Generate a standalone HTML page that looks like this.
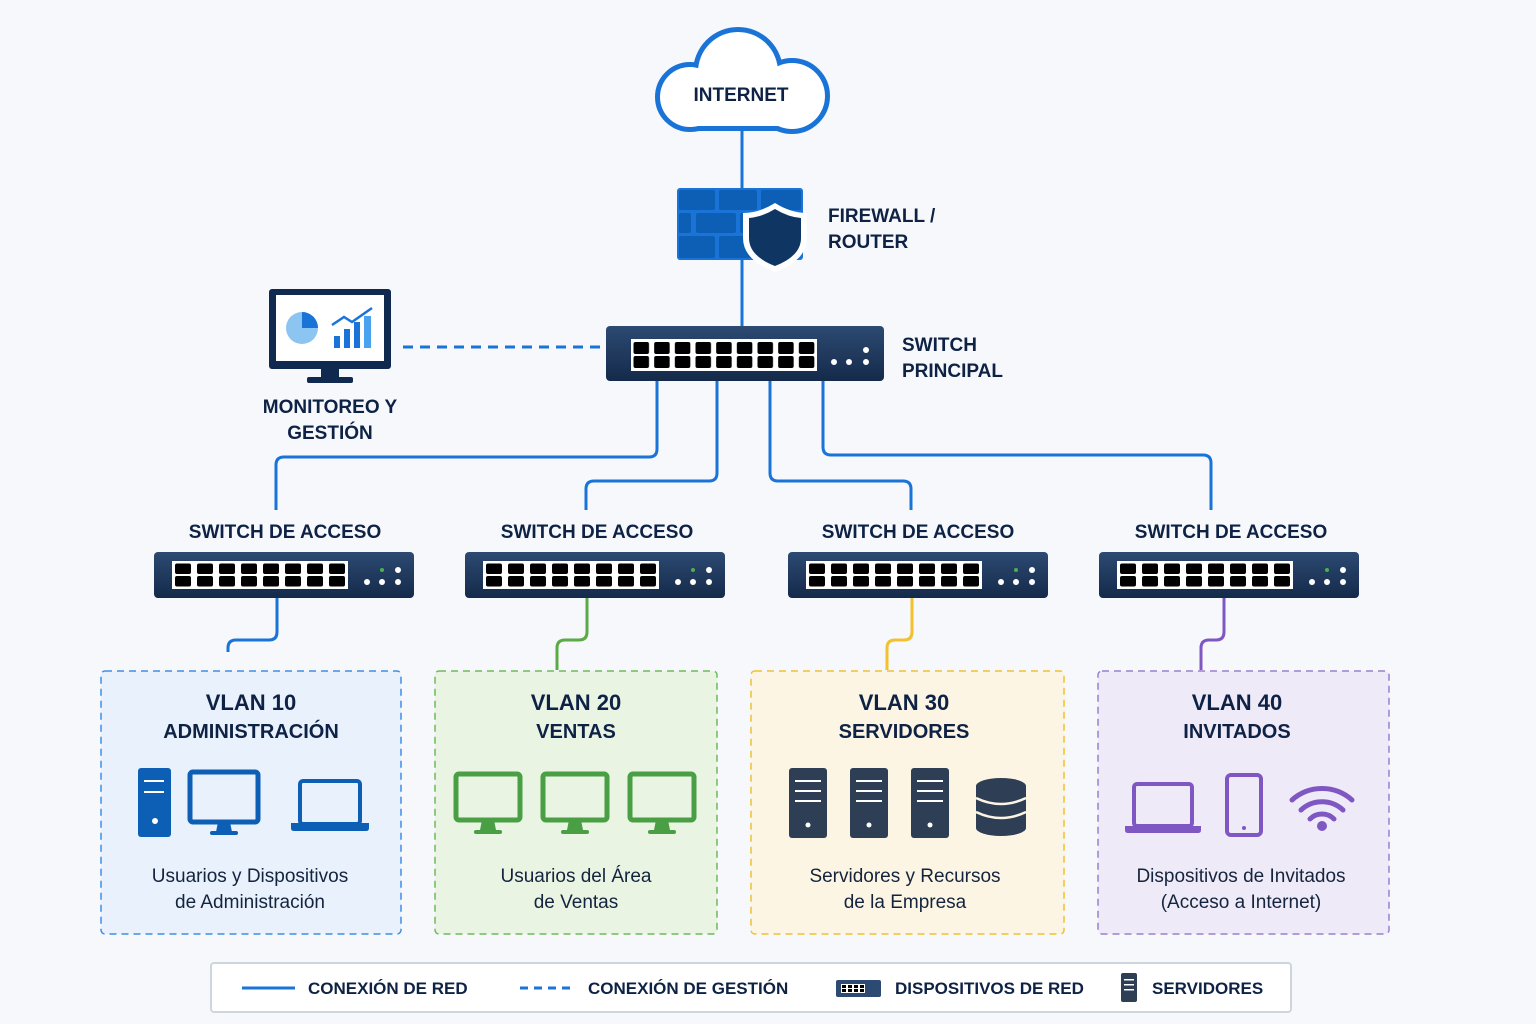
<!DOCTYPE html>
<html><head><meta charset="utf-8"><style>
html,body{margin:0;padding:0;background:#f6f8fb;}
svg{display:block;font-family:"Liberation Sans",sans-serif;}
.l{font-weight:bold;font-size:19px;fill:#0e2245;}
.t{font-weight:bold;font-size:22px;fill:#0e2245;text-anchor:middle;}
.d{font-size:19px;fill:#14243e;text-anchor:middle;}
.g{font-weight:bold;font-size:17px;fill:#0e2245;}
</style></head><body>
<svg width="1536" height="1024" viewBox="0 0 1536 1024">
<defs>
<linearGradient id="sw" x1="0" y1="0" x2="0" y2="1"><stop offset="0" stop-color="#2d4a72"/><stop offset="1" stop-color="#142a4a"/></linearGradient>
<pattern id="pm" x="631" y="339" width="20.667" height="32" patternUnits="userSpaceOnUse">
<rect width="21" height="32" fill="#fff"/>
<rect x="2.5" y="3" width="15.5" height="12" rx="2" fill="#000"/>
<rect x="2.5" y="17" width="15.5" height="12" rx="2" fill="#000"/>
</pattern>
<pattern id="pa" x="172" y="561" width="22" height="28" patternUnits="userSpaceOnUse">
<rect width="22" height="28" fill="#fff"/>
<rect x="3" y="2.5" width="16" height="10.5" rx="2" fill="#000"/>
<rect x="3" y="15" width="16" height="10.5" rx="2" fill="#000"/>
</pattern>
</defs>
<!-- connectors -->
<g fill="none" stroke="#1a74d8" stroke-width="3">
<path d="M742 130V326"/>
<path d="M657 381V449q0 8-8 8H284q-8 0-8 8V510"/>
<path d="M717 381V473q0 8-8 8H594q-8 0-8 8V510"/>
<path d="M770 381V473q0 8 8 8H903q8 0 8 8V510"/>
<path d="M823 381V447q0 8 8 8H1203q8 0 8 8V510"/>
<path d="M277 598V632q0 8-8 8H236q-8 0-8 8V652"/>
<path d="M403 347H600" stroke-dasharray="10 7"/>
</g>
<path d="M587 598V632q0 8-8 8H565q-8 0-8 8V670" fill="none" stroke="#5aaa48" stroke-width="3"/>
<path d="M912 598V632q0 8-8 8H895q-8 0-8 8V670" fill="none" stroke="#f2c12e" stroke-width="3"/>
<path d="M1224 598V632q0 8-8 8H1209q-8 0-8 8V670" fill="none" stroke="#7e57c2" stroke-width="3"/>
<!-- cloud -->
<g fill="#1a74d8" stroke="#1a74d8" stroke-width="10">
<circle cx="690" cy="97" r="30"/><circle cx="738" cy="72" r="40"/><circle cx="792" cy="96" r="33"/><rect x="690" y="96" width="102" height="30"/>
</g>
<g fill="#fff">
<circle cx="690" cy="97" r="30"/><circle cx="738" cy="72" r="40"/><circle cx="792" cy="96" r="33"/><rect x="690" y="96" width="102" height="30"/>
</g>
<text x="741" y="101" class="l" text-anchor="middle">INTERNET</text>
<!-- firewall -->
<g fill="#0d5fb5">
<rect x="677" y="188" width="126" height="72" rx="3" fill="#1a74d8"/>
<rect x="679" y="190" width="36" height="20" rx="2"/><rect x="719" y="190" width="38" height="20" rx="2"/><rect x="761" y="190" width="40" height="20" rx="2"/>
<rect x="679" y="213" width="12" height="20" rx="2"/><rect x="696" y="213" width="40" height="20" rx="2"/><rect x="740" y="213" width="40" height="20" rx="2"/>
<rect x="679" y="236" width="36" height="22" rx="2"/><rect x="719" y="236" width="38" height="22" rx="2"/>
</g>
<path d="M775 203q16 10 32 10v25q0 22-32 34q-32-12-32-34v-25q16 0 32-10z" fill="#fff"/>
<path d="M775 209q13 8 26 9v20q0 18-26 28q-26-10-26-28v-20q13-1 26-9z" fill="#0f3563"/>
<text x="828" y="222" class="l">FIREWALL /</text><text x="828" y="248" class="l">ROUTER</text>
<!-- main switch -->
<rect x="606" y="326" width="278" height="55" rx="4" fill="url(#sw)"/>
<rect x="631" y="339" width="186" height="32" fill="url(#pm)"/>
<g fill="#fff"><circle cx="834" cy="362" r="3"/><circle cx="849" cy="362" r="3"/><circle cx="866" cy="362" r="3"/><circle cx="866" cy="350" r="3"/></g>
<text x="902" y="351" class="l">SWITCH</text><text x="902" y="377" class="l">PRINCIPAL</text>
<!-- monitor -->
<rect x="269" y="289" width="122" height="80" rx="3" fill="#0f2a4e"/>
<rect x="276" y="295" width="108" height="66" fill="#fff"/>
<rect x="321" y="369" width="18" height="8" fill="#0f2a4e"/><rect x="307" y="377" width="46" height="6" rx="2" fill="#0f2a4e"/>
<circle cx="302" cy="328" r="16" fill="#8cc4f2"/><path d="M302 328V312a16 16 0 0 1 16 16z" fill="#1a74d8"/>
<g fill="#1a74d8"><rect x="334" y="336" width="6" height="12"/><rect x="344" y="329" width="6" height="19"/><rect x="354" y="322" width="6" height="26"/><rect x="364" y="316" width="7" height="32" fill="#4aa3ee"/></g>
<path d="M332 325l12-8 8 5 20-14" fill="none" stroke="#1a74d8" stroke-width="2.5"/>
<text x="330" y="413" class="l" text-anchor="middle">MONITOREO Y</text><text x="330" y="439" class="l" text-anchor="middle">GESTIÓN</text>
<!-- access switches -->
<g id="as">
<rect x="154" y="552" width="260" height="46" rx="4" fill="url(#sw)"/>
<rect x="172" y="561" width="176" height="28" fill="url(#pa)"/>
<g fill="#fff"><circle cx="367" cy="582" r="3"/><circle cx="382" cy="582" r="3"/><circle cx="398" cy="582" r="3"/><circle cx="398" cy="570" r="3"/><circle cx="382" cy="570" r="2" fill="#4caf50"/></g>
</g>
<use href="#as" x="311"/><use href="#as" x="634"/><use href="#as" x="945"/>
<text x="285" y="538" class="l" text-anchor="middle">SWITCH DE ACCESO</text>
<text x="597" y="538" class="l" text-anchor="middle">SWITCH DE ACCESO</text>
<text x="918" y="538" class="l" text-anchor="middle">SWITCH DE ACCESO</text>
<text x="1231" y="538" class="l" text-anchor="middle">SWITCH DE ACCESO</text>
<!-- VLAN boxes -->
<rect x="101" y="671" width="300" height="263" rx="4" fill="#e8f1fc" stroke="#3f8ee8" stroke-width="1.5" stroke-dasharray="7 5"/>
<rect x="435" y="671" width="282" height="263" rx="4" fill="#eaf4e2" stroke="#6cbb56" stroke-width="1.5" stroke-dasharray="7 5"/>
<rect x="751" y="671" width="313" height="263" rx="4" fill="#fdf5e3" stroke="#f2c12e" stroke-width="1.5" stroke-dasharray="7 5"/>
<rect x="1098" y="671" width="291" height="263" rx="4" fill="#efeaf7" stroke="#9b7fd0" stroke-width="1.5" stroke-dasharray="7 5"/>
<text x="251" y="710" class="t">VLAN 10</text><text x="251" y="738" class="t" style="font-size:20px">ADMINISTRACIÓN</text>
<text x="576" y="710" class="t">VLAN 20</text><text x="576" y="738" class="t" style="font-size:20px">VENTAS</text>
<text x="904" y="710" class="t">VLAN 30</text><text x="904" y="738" class="t" style="font-size:20px">SERVIDORES</text>
<text x="1237" y="710" class="t">VLAN 40</text><text x="1237" y="738" class="t" style="font-size:20px">INVITADOS</text>
<text x="250" y="882" class="d">Usuarios y Dispositivos</text><text x="250" y="908" class="d">de Administración</text>
<text x="576" y="882" class="d">Usuarios del Área</text><text x="576" y="908" class="d">de Ventas</text>
<text x="905" y="882" class="d">Servidores y Recursos</text><text x="905" y="908" class="d">de la Empresa</text>
<text x="1241" y="882" class="d">Dispositivos de Invitados</text><text x="1241" y="908" class="d">(Acceso a Internet)</text>
<!-- VLAN10 icons -->
<rect x="138" y="768" width="33" height="69" rx="3" fill="#0d5fb5"/>
<rect x="144" y="780" width="20" height="2" fill="#fff"/><rect x="144" y="791" width="20" height="2" fill="#fff"/><circle cx="155" cy="821" r="3" fill="#fff"/>
<rect x="190" y="772" width="68" height="50" rx="3" fill="none" stroke="#0d5fb5" stroke-width="5"/>
<path d="M218 822h12l2 10h-16z" fill="#0d5fb5"/><rect x="210" y="831" width="28" height="4" rx="2" fill="#0d5fb5"/>
<rect x="300" y="781" width="60" height="43" rx="3" fill="none" stroke="#0d5fb5" stroke-width="4"/>
<path d="M291 823h78v5q0 3-3 3h-72q-3 0-3-3z" fill="#0d5fb5"/>
<!-- VLAN20 icons -->
<g fill="none" stroke="#4a9f45" stroke-width="5">
<rect x="456" y="774" width="64" height="46" rx="3"/><rect x="543" y="774" width="64" height="46" rx="3"/><rect x="630" y="774" width="64" height="46" rx="3"/></g>
<g fill="#4a9f45"><path d="M482 820h12l2 10h-16z"/><rect x="474" y="830" width="28" height="4" rx="2"/>
<path d="M569 820h12l2 10h-16z"/><rect x="561" y="830" width="28" height="4" rx="2"/>
<path d="M656 820h12l2 10h-16z"/><rect x="648" y="830" width="28" height="4" rx="2"/></g>
<!-- VLAN30 icons -->
<g id="srv"><rect x="789" y="768" width="38" height="70" rx="3" fill="#2d3e55"/>
<g fill="#fff"><rect x="795" y="780" width="26" height="2"/><rect x="795" y="790" width="26" height="2"/><rect x="795" y="800" width="26" height="2"/><circle cx="808" cy="825" r="2.5"/></g></g>
<use href="#srv" x="61"/><use href="#srv" x="122"/>
<g fill="#2d3e55"><ellipse cx="1001" cy="786" rx="25" ry="8"/><rect x="976" y="786" width="50" height="42"/><ellipse cx="1001" cy="828" rx="25" ry="8"/></g>
<g fill="none" stroke="#fdf5e3" stroke-width="2.5"><path d="M976 798q25 12 50 0"/><path d="M976 812q25 12 50 0"/></g>
<!-- VLAN40 icons -->
<rect x="1134" y="784" width="58" height="42" rx="3" fill="none" stroke="#7e57c2" stroke-width="4"/>
<path d="M1125 826h76v4q0 3-3 3h-70q-3 0-3-3z" fill="#7e57c2"/>
<rect x="1227" y="775" width="34" height="60" rx="4" fill="none" stroke="#7e57c2" stroke-width="4"/>
<circle cx="1244" cy="828" r="2" fill="#7e57c2"/>
<g fill="none" stroke="#7e57c2" stroke-width="5" stroke-linecap="round">
<path d="M1292 800a45 45 0 0 1 60 0"/><path d="M1301 810a31 31 0 0 1 42 0"/><path d="M1310 819a17 17 0 0 1 24 0"/></g>
<circle cx="1322" cy="826" r="5" fill="#7e57c2"/>
<!-- legend -->
<rect x="211" y="963" width="1080" height="49" rx="3" fill="#fff" stroke="#cfd5dd" stroke-width="2"/>
<line x1="242" y1="988" x2="295" y2="988" stroke="#1a74d8" stroke-width="3"/>
<text x="308" y="994" class="g">CONEXIÓN DE RED</text>
<line x1="520" y1="988" x2="575" y2="988" stroke="#1a74d8" stroke-width="3" stroke-dasharray="8 6"/>
<text x="588" y="994" class="g">CONEXIÓN DE GESTIÓN</text>
<rect x="836" y="980" width="45" height="17" rx="2" fill="#2d4a72"/>
<rect x="841" y="984" width="24" height="9" fill="#fff"/>
<g fill="#000"><rect x="842" y="985" width="4" height="3"/><rect x="848" y="985" width="4" height="3"/><rect x="854" y="985" width="4" height="3"/><rect x="860" y="985" width="4" height="3"/><rect x="842" y="989" width="4" height="3"/><rect x="848" y="989" width="4" height="3"/><rect x="854" y="989" width="4" height="3"/><rect x="860" y="989" width="4" height="3"/></g>
<text x="895" y="994" class="g">DISPOSITIVOS DE RED</text>
<rect x="1121" y="973" width="16" height="29" rx="2" fill="#2d3e55"/>
<g fill="#fff"><rect x="1124" y="979" width="10" height="1.5"/><rect x="1124" y="984" width="10" height="1.5"/><rect x="1124" y="989" width="10" height="1.5"/></g>
<text x="1152" y="994" class="g">SERVIDORES</text>
</svg>
</body></html>
